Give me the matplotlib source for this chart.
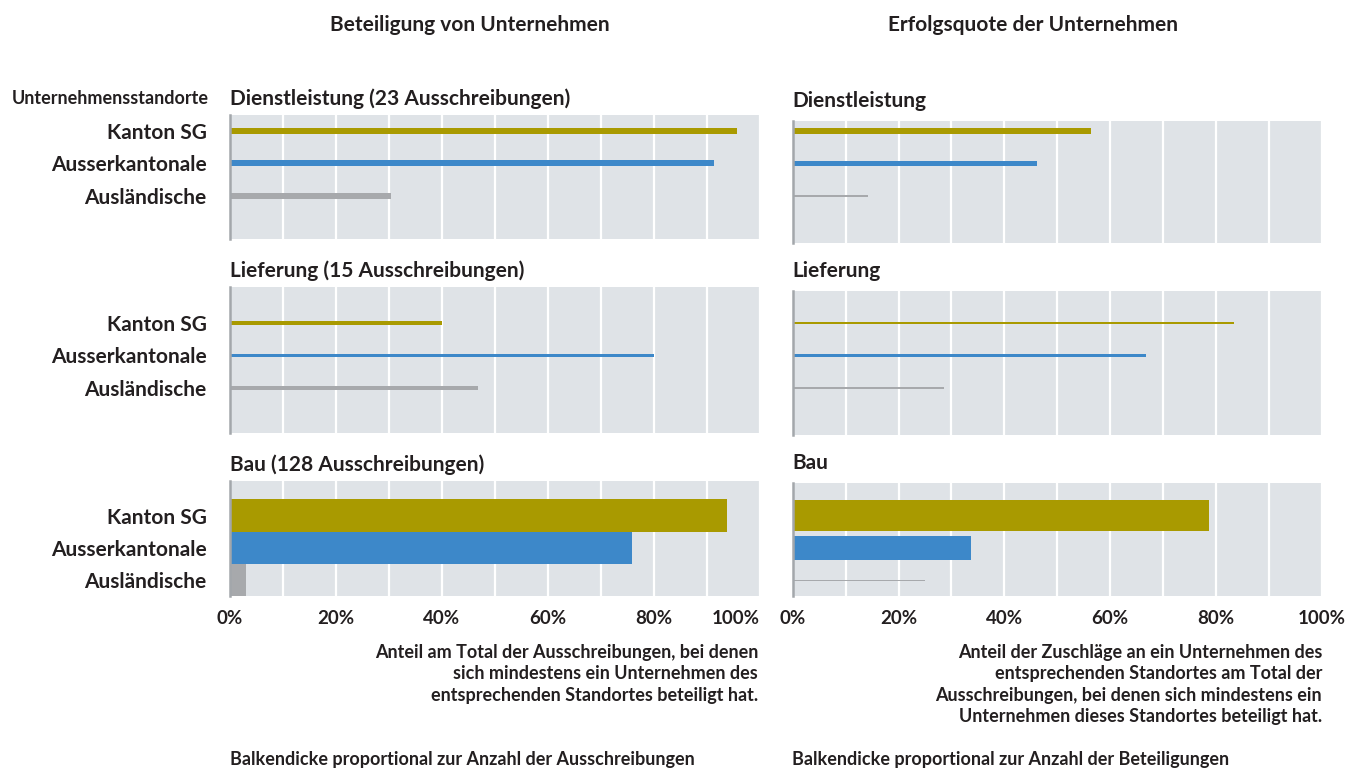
import matplotlib
matplotlib.use('Agg')
from matplotlib import pyplot as plt

plt.rcParams['font.family'] = ['Lato', 'DejaVu Sans']
plt.rcParams['font.weight'] = 'bold'
plt.rcParams['axes.titleweight'] = 'bold'

categories = ['Kanton SG', 'Ausserkantonale', 'Ausländische']
left_titles = ['Dienstleistung (23 Ausschreibungen)', 'Lieferung (15 Ausschreibungen)',
               'Bau (128 Ausschreibungen)']
right_titles = ['Dienstleistung', 'Lieferung', 'Bau']
tenders = [23, 15, 128]

# share of tenders with at least one bidder of the location (%)
part_dienst = [95.7, 91.3, 30.4]
part_liefer = [40.0, 80.0, 46.7]
part_bau = [93.8, 75.8, 3.1]

# share of awards among the tenders with a bidder of the location (%)
succ_dienst = [56.4, 46.1, 14.3]
succ_liefer = [83.3, 66.7, 28.6]
succ_bau = [78.7, 33.7, 25.0]

participation = [part_dienst, part_liefer, part_bau]
success = [succ_dienst, succ_liefer, succ_bau]

tick_labels = ['0%', '', '20%', '', '40%', '', '60%', '', '80%', '', '100%']

colors = ['#a99a00', '#3d88c9', '#a7a9ac']
panel_bg = '#dfe3e7'
text_col = '#231f20'

W, H = 1356, 771
fig = plt.figure(figsize=(W / 100, H / 100), dpi=100)

slot = 32.4  # px between bar centres
# (top, bottom, centre of first bar) in px
left_boxes = [(115, 239, 131), (287, 433, 323), (481, 596, 515.5)]
right_boxes = [(121, 243, 131), (291, 435, 323), (483, 596, 515.5)]


def panel(x0, x1, box):
    top, bottom, c0 = box
    ax = fig.add_axes([x0 / W, 1 - bottom / H, (x1 - x0) / W, (bottom - top) / H])
    ax.set_facecolor(panel_bg)
    ax.set_xlim(0, 100)
    ax.set_ylim(2 + (bottom - c0 - 2 * slot) / slot, -(c0 - top) / slot)
    ax.set_xticks(range(0, 101, 10))
    ax.set_xticklabels([])
    ax.set_yticks([])
    ax.grid(axis='x', color='white', linewidth=1.6)
    ax.set_axisbelow(True)
    for s in ['top', 'right', 'bottom']:
        ax.spines[s].set_visible(False)
    ax.spines['left'].set_color('#a3a7ab')
    ax.spines['left'].set_linewidth(1.8)
    ax.tick_params(length=0)
    return ax


for i in range(3):
    axl = panel(230, 760, left_boxes[i])
    heights = [tenders[i] / 128] * 3
    axl.barh(range(3), participation[i], height=heights, color=colors)
    axl.set_yticks(range(3))
    axl.set_yticklabels(categories, fontsize=15, color=text_col)
    axl.tick_params(axis='y', pad=17)
    axl.set_title(left_titles[i], loc='left', fontsize=15, color=text_col, pad=7.5)

    axr = panel(792.7, 1322, right_boxes[i])
    heights = [tenders[i] * p / 100 / 128 for p in participation[i]]
    axr.barh(range(3), success[i], height=heights, color=colors)
    axr.set_title(right_titles[i], loc='left', fontsize=15, color=text_col, pad=10)

    if i == 2:
        for ax in (axl, axr):
            ax.set_xticklabels(tick_labels, fontsize=13.5, color=text_col)
            ax.tick_params(axis='x', pad=10)
        # keep "100%" of the left panel clear of the "0%" on the right
        axl.get_xticklabels()[-1].set_horizontalalignment('right')
        axl.get_xticklabels()[-1].set_x(101)

fig.text(470 / W, 1 - 25 / H, 'Beteiligung von Unternehmen', ha='center', va='center',
         fontsize=15, color=text_col)
fig.text(1033 / W, 1 - 25 / H, 'Erfolgsquote der Unternehmen', ha='center', va='center',
         fontsize=15, color=text_col)
fig.text(209 / W, 1 - 99 / H, 'Unternehmensstandorte', ha='right', va='center',
         fontsize=13, color=text_col)

fig.text(758 / W, 1 - 644 / H,
         'Anteil am Total der Ausschreibungen, bei denen\n'
         'sich mindestens ein Unternehmen des\n'
         'entsprechenden Standortes beteiligt hat.',
         ha='right', va='top', multialignment='right', fontsize=13,
         color=text_col, linespacing=1.32)
fig.text(1322 / W, 1 - 644 / H,
         'Anteil der Zuschläge an ein Unternehmen des\n'
         'entsprechenden Standortes am Total der\n'
         'Ausschreibungen, bei denen sich mindestens ein\n'
         'Unternehmen dieses Standortes beteiligt hat.',
         ha='right', va='top', multialignment='right', fontsize=13,
         color=text_col, linespacing=1.32)

fig.text(230 / W, 1 - 760 / H, 'Balkendicke proportional zur Anzahl der Ausschreibungen',
         ha='left', va='center', fontsize=13, color=text_col)
fig.text(792 / W, 1 - 760 / H, 'Balkendicke proportional zur Anzahl der Beteiligungen',
         ha='left', va='center', fontsize=13, color=text_col)

fig.savefig('out.png', dpi=100, facecolor='white')
